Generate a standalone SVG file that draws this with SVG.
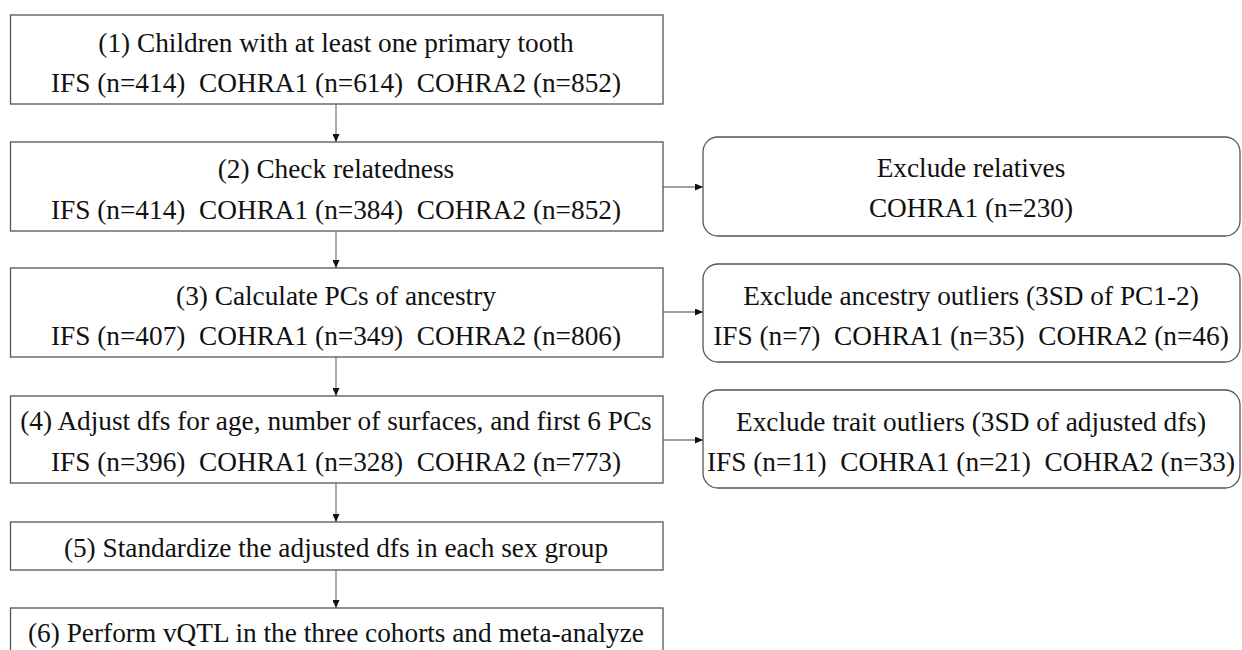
<svg xmlns="http://www.w3.org/2000/svg" width="1242" height="650" viewBox="0 0 1242 650">
<defs>
<style>
.box{fill:#fff;stroke:#555;stroke-width:1.3}
.t{font-family:"Liberation Serif","Times New Roman",serif;font-size:27.3px;fill:#111;text-anchor:middle;white-space:pre}
.c{stroke:#808080;stroke-width:1.3;fill:none}
</style>
<marker id="ah" viewBox="0 0 8 7" refX="8" refY="3.5" markerWidth="8" markerHeight="7" markerUnits="userSpaceOnUse" orient="auto"><path d="M0,0L8,3.5L0,7z" fill="#111"/></marker>
</defs>
<rect width="1242" height="650" fill="#fff"/>
<g id="connectors">
<line class="c" x1="336" y1="104" x2="336" y2="142" marker-end="url(#ah)"/>
<line class="c" x1="336" y1="231" x2="336" y2="268" marker-end="url(#ah)"/>
<line class="c" x1="336" y1="357" x2="336" y2="396" marker-end="url(#ah)"/>
<line class="c" x1="336" y1="483" x2="336" y2="522" marker-end="url(#ah)"/>
<line class="c" x1="336" y1="570" x2="336" y2="608" marker-end="url(#ah)"/>
<line class="c" x1="663" y1="187" x2="703" y2="187" marker-end="url(#ah)"/>
<line class="c" x1="663" y1="312" x2="703" y2="312" marker-end="url(#ah)"/>
<line class="c" x1="663" y1="440" x2="703" y2="440" marker-end="url(#ah)"/>
</g>
<g id="n1"><rect class="box" x="10.5" y="15" width="652.5" height="89"/>
<text class="t" x="336" y="52">(1) Children with at least one primary tooth</text>
<text class="t" x="336" y="92">IFS (n=414)  COHRA1 (n=614)  COHRA2 (n=852)</text></g>
<g id="n2"><rect class="box" x="10.5" y="142" width="652.5" height="89"/>
<text class="t" x="336" y="178">(2) Check relatedness</text>
<text class="t" x="336" y="219">IFS (n=414)  COHRA1 (n=384)  COHRA2 (n=852)</text></g>
<g id="n3"><rect class="box" x="10.5" y="268" width="652.5" height="89"/>
<text class="t" x="336" y="305">(3) Calculate PCs of ancestry</text>
<text class="t" x="336" y="345">IFS (n=407)  COHRA1 (n=349)  COHRA2 (n=806)</text></g>
<g id="n4"><rect class="box" x="10.5" y="396" width="652.5" height="87"/>
<text class="t" x="336" y="430">(4) Adjust dfs for age, number of surfaces, and first 6 PCs</text>
<text class="t" x="336" y="471">IFS (n=396)  COHRA1 (n=328)  COHRA2 (n=773)</text></g>
<g id="n5"><rect class="box" x="10.5" y="522" width="652.5" height="48"/>
<text class="t" x="336" y="557">(5) Standardize the adjusted dfs in each sex group</text></g>
<g id="n6"><rect class="box" x="10.5" y="608" width="652.5" height="60"/>
<text class="t" x="336" y="642">(6) Perform vQTL in the three cohorts and meta-analyze</text></g>
<g id="r2"><rect class="box" x="703" y="137" width="537" height="99" rx="15"/>
<text class="t" x="971" y="177">Exclude relatives</text>
<text class="t" x="971" y="217">COHRA1 (n=230)</text></g>
<g id="r3"><rect class="box" x="703" y="264" width="537" height="98" rx="15"/>
<text class="t" x="971" y="305">Exclude ancestry outliers (3SD of PC1-2)</text>
<text class="t" x="971" y="345">IFS (n=7)  COHRA1 (n=35)  COHRA2 (n=46)</text></g>
<g id="r4"><rect class="box" x="703" y="390" width="537" height="98" rx="15"/>
<text class="t" x="971" y="431">Exclude trait outliers (3SD of adjusted dfs)</text>
<text class="t" x="971" y="471">IFS (n=11)  COHRA1 (n=21)  COHRA2 (n=33)</text></g>
</svg>
